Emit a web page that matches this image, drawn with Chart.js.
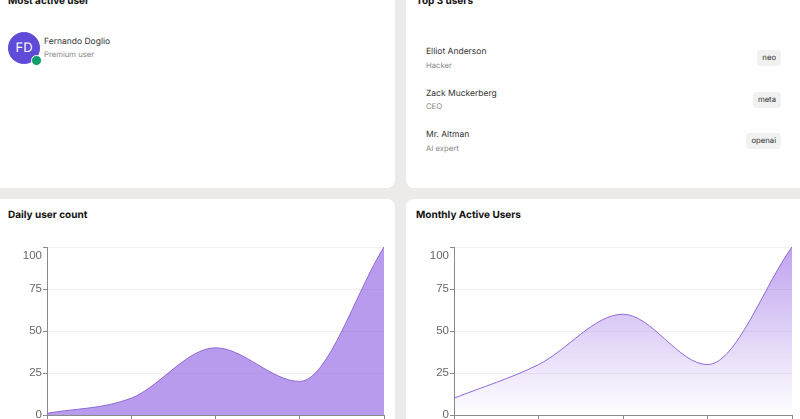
<!DOCTYPE html>
<html>
<head>
<meta charset="utf-8">
<title>Dashboard</title>
<script src="https://cdn.jsdelivr.net/npm/chart.js@4"></script>
<style>
    html, body { margin: 0; width: 800px; height: 419px; overflow: hidden; background: #ecebe9; font-family: Inter, sans-serif; text-rendering: geometricPrecision; }
    .card { position: absolute; background: #fff; border-radius: 8px; }
    .title { position: absolute; left: 8px; font-size: 10px; font-weight: 700; line-height: 14px; color: #111; white-space: nowrap; }
    .name { position: absolute; font-size: 8.5px; line-height: 12px; color: #333; white-space: nowrap; }
    .role { position: absolute; font-size: 7.7px; line-height: 11px; color: #888; white-space: nowrap; }
    .avatar { position: absolute; left: 8px; top: 32px; width: 32px; height: 32px; border-radius: 50%; background: #5e4bd8; color: #fff; font-size: 13px; line-height: 32px; text-align: center; }
    .dot { position: absolute; left: 31px; top: 55px; width: 9px; height: 9px; border-radius: 50%; background: #0f9d6c; border: 1px solid #fff; }
    .tag { position: absolute; right: 19px; height: 16px; line-height: 16px; padding: 0 5px; font-size: 7.7px; color: #333; background: #f1f1f1; border-radius: 4px; }
    canvas { position: absolute; }
</style>
</head>
<body>
<div class="card" style="left:-10px;top:-10px;width:405px;height:198px"></div>
<div class="card" style="left:406px;top:-10px;width:410px;height:198px"></div>
<div class="card" style="left:-10px;top:199px;width:405px;height:240px"></div>
<div class="card" style="left:406px;top:199px;width:410px;height:240px"></div>

<div class="title" style="top:-6px">Most active user</div>
<div class="avatar">FD</div>
<div class="dot"></div>
<div class="name" style="left:44px;top:36px">Fernando Doglio</div>
<div class="role" style="left:44px;top:49px">Premium user</div>

<div class="title" style="left:416px;top:-6px">Top 3 users</div>
<div class="name" style="left:426px;top:46px">Elliot Anderson</div>
<div class="role" style="left:426px;top:60px">Hacker</div>
<div class="tag" style="top:50px">neo</div>
<div class="name" style="left:426px;top:88px">Zack Muckerberg</div>
<div class="role" style="left:426px;top:101px">CEO</div>
<div class="tag" style="top:92px">meta</div>
<div class="name" style="left:426px;top:129px">Mr. Altman</div>
<div class="role" style="left:426px;top:143px">AI expert</div>
<div class="tag" style="top:133px">openai</div>

<div class="title" style="top:208px">Daily user count</div>
<div class="title" style="left:416px;top:208px">Monthly Active Users</div>

<canvas id="graficoDiario" width="392" height="210" style="left:0;top:240px"></canvas>
<canvas id="graficoMensal" width="400" height="210" style="left:400px;top:240px"></canvas>

<script>
// dados
const categorias = ['Jan', 'Feb', 'Mar', 'Apr', 'May'];
const usuariosDiarios = [1, 10, 40, 20, 100];
const usuariosMensais = [10, 30, 60, 30, 100];
const ticksY = [0, 25, 50, 75, 100];

// rotulos do eixo Y: o do topo fica abaixo da marca, como no original
const rotulosY = {
    id: 'rotulosY',
    afterDraw(chart) {
        const { ctx, scales: { y } } = chart;
        ctx.save();
        ctx.font = '11.5px "Liberation Sans"';
        ctx.fillStyle = '#666';
        ctx.textAlign = 'right';
        ticksY.forEach(v => {
            const topo = v === y.max;
            ctx.textBaseline = topo ? 'top' : 'middle';
            ctx.fillText(String(v), y.right - 5, y.getPixelForValue(v) + (topo ? 3 : 0));
        });
        ctx.restore();
    }
};

function criarGrafico(id, valores, preenchimento, larguraEixo) {
    new Chart(document.getElementById(id), {
        type: 'line',
        data: {
            labels: categorias,
            datasets: [{
                data: valores,
                fill: true,
                borderColor: '#8f6ad8',
                borderWidth: 1,
                backgroundColor: preenchimento,
                cubicInterpolationMode: 'monotone',
                pointRadius: 0
            }]
        },
        options: {
            responsive: false,
            animation: false,
            layout: { padding: { top: 7, right: 8, left: 0, bottom: 0 } },
            plugins: { legend: { display: false }, tooltip: { enabled: false } },
            scales: {
                x: {
                    grid: { drawOnChartArea: false, tickLength: 5, tickColor: '#8a8a8a' },
                    border: { color: '#8a8a8a', width: 1 },
                    ticks: { color: '#666', font: { size: 11 }, padding: 4, maxRotation: 0 },
                    afterFit: scale => { scale.height = 35; scale.paddingLeft = 0; scale.paddingRight = 0; }
                },
                y: {
                    min: 0,
                    max: 100,
                    afterBuildTicks: scale => { scale.ticks = ticksY.map(v => ({ value: v })); },
                    afterFit: scale => { scale.width = larguraEixo; scale.paddingTop = 0; scale.paddingBottom = 0; },
                    grid: { color: '#f1f1f1', tickColor: '#8a8a8a', tickLength: 4 },
                    border: { color: '#8a8a8a', width: 1 },
                    ticks: { display: false }
                }
            }
        },
        plugins: [rotulosY]
    });
}

criarGrafico('graficoDiario', usuariosDiarios, 'rgba(128, 72, 222, 0.55)', 47);

criarGrafico('graficoMensal', usuariosMensais, ctx => {
    const area = ctx.chart.chartArea;
    if (!area) return 'transparent';
    const grad = ctx.chart.ctx.createLinearGradient(0, area.top, 0, area.bottom);
    grad.addColorStop(0, 'rgba(128, 72, 222, 0.5)');
    grad.addColorStop(1, 'rgba(128, 72, 222, 0)');
    return grad;
}, 54);
</script>
</body>
</html>
